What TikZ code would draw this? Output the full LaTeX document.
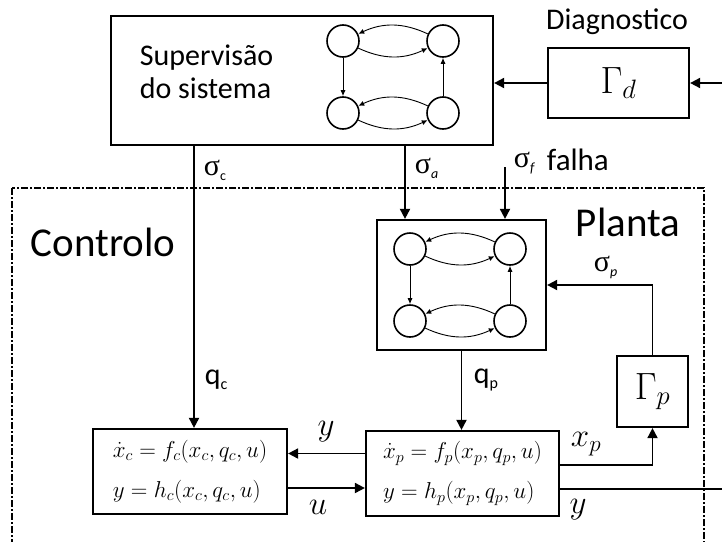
\RequirePackage{fix-cm}
\documentclass[tikz,border=0pt]{standalone}
\usepackage{fontspec}
\setmainfont{Carlito}
\newfontfamily\grego{Liberation Serif}
\usetikzlibrary{positioning, arrows.meta, calc}

\newcommand{\sig}[1]{{\grego σ}\raisebox{-0.35ex}{\fontsize{14}{14}\selectfont #1}}

\begin{document}
\begin{tikzpicture}[
    x=1pt, y=-1pt,
    line width=1.8pt,
    >={Triangle[length=10pt,width=10pt]},
    bloco/.style={draw, line width=2.2pt, rectangle, inner sep=0pt},
    estado/.style={draw, circle, line width=1.6pt, minimum size=32pt, inner sep=0pt},
    trans/.style={-{Latex[length=6pt,width=5pt]}, line width=0.9pt},
    rotulo/.style={font=\fontsize{30}{30}\selectfont, inner sep=0pt},
    titulo/.style={font=\fontsize{41}{41}\selectfont, inner sep=0pt},
    sinal/.style={font=\fontsize{30}{30}\selectfont, inner sep=0pt, anchor=west},
    var/.style={font=\fontsize{33}{33}\selectfont, inner sep=0pt},
    eq/.style={bloco, align=left, font=\fontsize{23}{40}\selectfont}
]
    \useasboundingbox (0,0) rectangle (722,541);
    \clip (0,0) rectangle (722,541);

    % zona tracejada
    \draw[line width=1.8pt, dash pattern=on 7pt off 2pt on 2pt off 2pt] (12,188) rectangle (704,570);

    % blocos
    \node[bloco, minimum width=382pt, minimum height=129pt] (sup) at (302,80.5) {};
    \node[rotulo, align=left, anchor=west, font=\fontsize{30}{33}\selectfont] (suptxt) at (139,72) {Supervisão\\do sistema};
    \node[bloco, minimum width=141pt, minimum height=70pt, font=\fontsize{38}{38}\selectfont] (diag) at (618.5,83) {$\Gamma_d$};
    \node[rotulo] (diagtxt) at (617,22) {Diagnostico};
    \node[bloco, minimum width=169pt, minimum height=130pt] (planta) at (461.5,285) {};
    \node[bloco, minimum width=71pt, minimum height=71pt, font=\fontsize{38}{38}\selectfont] (gamap) at (652.5,391.5) {$\Gamma_p$};
    \node[eq, minimum width=194pt, minimum height=85pt] (ctrl) at (190,471.5)
        {$\dot{x}_c = f_c(x_c,q_c,u)$\\$y = h_c(x_c,q_c,u)$};
    \node[eq, minimum width=193pt, minimum height=85pt] (eqp) at (462.5,473.5)
        {$\dot{x}_p = f_p(x_p,q_p,u)$\\$y = h_p(x_p,q_p,u)$};
    \node[titulo, anchor=west] (controlo) at (30,242) {Controlo};
    \node[titulo] (plantatxt) at (628,222) {Planta};

    % automatos
    \foreach \nm/\cx/\cy in {s/393/77, p/460/285} {
        \node[estado] (\nm1) at (\cx-50,\cy-36) {};
        \node[estado] (\nm2) at (\cx+50,\cy-36) {};
        \node[estado] (\nm3) at (\cx-50,\cy+36) {};
        \node[estado] (\nm4) at (\cx+50,\cy+36) {};
        \draw[trans] (\nm2) to[bend right=25] (\nm1);
        \draw[trans] (\nm1) to[bend right=25] (\nm2);
        \draw[trans] (\nm4) to[bend right=25] (\nm3);
        \draw[trans] (\nm3) to[bend right=25] (\nm4);
        \draw[trans] (\nm1) -- (\nm3);
        \draw[trans] (\nm4) -- (\nm2);
    }

    % ligacoes
    \coordinate (entrada) at (722,83);
    \coordinate (falha) at (505,167);
    \coordinate (saida) at (722,489);
    \draw[->] (entrada) -- (diag.east);
    \draw[->] (diag.west) -- (diag.west -| sup.east);
    \draw[->] ([xshift=4pt]ctrl.north |- sup.south) -- ([xshift=4pt]ctrl.north);
    \draw[->] ([xshift=-56.5pt]planta.north |- sup.south) -- ([xshift=-56.5pt]planta.north);
    \draw[->] (falha) -- (falha |- planta.north);
    \draw[->] (planta.south) -- (planta.south |- eqp.north);
    \draw[->] (gamap.north) |- (planta.east);
    \draw[->] ([yshift=8.5pt]eqp.east) -| (gamap.south);
    \draw ([yshift=-15.5pt]eqp.east) -- (saida);
    \draw[->] ([yshift=20pt]eqp.west) -- ([yshift=20pt]eqp.west -| ctrl.east);
    \draw[->] ([yshift=-16.5pt]ctrl.east) -- ([yshift=-16.5pt]ctrl.east -| eqp.west);

    % rotulos
    \node[sinal] (sc) at (203,170) {\sig{c}};
    \node[sinal] (sa) at (414,168) {\sig{\itshape a}};
    \node[sinal] (sf) at (513,163) {\sig{\itshape f}};
    \node[rotulo, anchor=west, font=\fontsize{31}{31}\selectfont] (falhatxt) at (546,160) {falha};
    \node[sinal] (sp) at (593,267) {\sig{\itshape p}};
    \node[rotulo, anchor=west] (qc) at (204,380) {q\raisebox{-0.3ex}{\fontsize{16}{16}\selectfont c}};
    \node[rotulo, anchor=west] (qp) at (473,380) {q\raisebox{-0.3ex}{\fontsize{16}{16}\selectfont p}};
    \node[var] (yc) at (326,432) {$y$};
    \node[var] (uc) at (318,507) {$u$};
    \node[var] (xp) at (586,444) {$x_p$};
    \node[var] (yp) at (578,510) {$y$};
\end{tikzpicture}
\end{document}
